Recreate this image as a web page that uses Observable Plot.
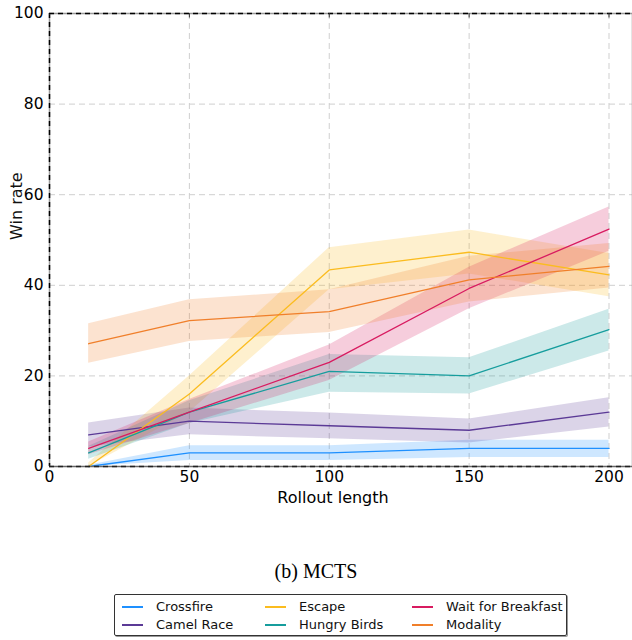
<!DOCTYPE html>
<html>
<head>
<meta charset="utf-8">
<script src="https://cdn.jsdelivr.net/npm/d3@7"></script>
<script src="https://cdn.jsdelivr.net/npm/@observablehq/plot@0.6"></script>
<style>
  html, body { margin: 0; padding: 0; background: #fff; }
  #fig { position: relative; width: 632px; height: 640px; font-family: "DejaVu Sans", sans-serif; }
  #chart { position: absolute; left: 0; top: 0; }
  #caption { position: absolute; left: 0; width: 632px; top: 560px; text-align: center;
             font-family: "Liberation Serif", "DejaVu Serif", serif; font-size: 20px; color: #000; }
  #legend { position: absolute; left: 114px; top: 594px; width: 453px; height: 42px;
            border: 1px solid #333; border-radius: 2px; box-shadow: 1px 1px 0 #999; box-sizing: border-box;
            font-size: 13px; color: #111; }
  .li { position: absolute; height: 16px; line-height: 16px; white-space: nowrap; }
  .li .sw { position: absolute; left: 0; top: 7px; width: 21px; height: 2px; }
  .li .tx { position: absolute; left: 34px; top: 0; }
</style>
</head>
<body>
<div id="fig">
  <div id="chart"></div>
  <div id="caption">(b) MCTS</div>
  <div id="legend"></div>
</div>
<script>
const rollout = [14, 50, 100, 150, 200];
const seriesNames = ["Crossfire", "Camel Race", "Escape", "Hungry Birds", "Wait for Breakfast", "Modality"];
const seriesColors = ["#1e90ff", "#5b3a96", "#fbbc1f", "#169d9d", "#d81b60", "#f07f2a"];

const crossfireMean = [0, 3, 3, 4, 4];
const crossfireLo   = [0, 1.3, 1.3, 2, 2];
const crossfireHi   = [0.3, 4.6, 4.6, 5.8, 5.8];

const camelMean = [7, 10, 9, 8, 12];
const camelLo   = [4.3, 7, 6.1, 5.2, 8.7];
const camelHi   = [9.6, 12.9, 11.8, 10.5, 15.2];

const escapeMean = [0, 16, 43.4, 47.3, 42.3];
const escapeLo   = [0, 12, 39, 42.5, 37.5];
const escapeHi   = [0.8, 20, 48.3, 52.2, 47];

const birdsMean = [3, 12, 21, 20, 30.2];
const birdsLo   = [1.6, 9.5, 16.4, 16, 25.5];
const birdsHi   = [4.4, 14.5, 24.7, 24, 34.7];

const breakfastMean = [4, 12, 23, 39.3, 52.4];
const breakfastLo   = [2.6, 9.5, 19, 34.8, 47.5];
const breakfastHi   = [5.4, 14.8, 26.8, 44, 57.3];

const modalityMean = [27.1, 32.2, 34.2, 41.2, 44.2];
const modalityLo   = [22.8, 27.6, 29.6, 36.3, 39.4];
const modalityHi   = [31.5, 36.8, 39, 46.4, 49.2];

const xTicks = [0, 50, 100, 150, 200];
const yTicks = [0, 20, 40, 60, 80, 100];

const means = [crossfireMean, camelMean, escapeMean, birdsMean, breakfastMean, modalityMean];
const los = [crossfireLo, camelLo, escapeLo, birdsLo, breakfastLo, modalityLo];
const his = [crossfireHi, camelHi, escapeHi, birdsHi, breakfastHi, modalityHi];

const rows = [];
seriesNames.forEach((name, i) => {
  rollout.forEach((x, j) => rows.push({series: name, x, mean: means[i][j], lo: los[i][j], hi: his[i][j]}));
});

const bandMarks = seriesNames.map((name, i) =>
  Plot.areaY(rows.filter(d => d.series === name), {x: "x", y1: "lo", y2: "hi", fill: seriesColors[i], fillOpacity: 0.22}));
const lineMarks = seriesNames.map((name, i) =>
  Plot.lineY(rows.filter(d => d.series === name), {x: "x", y: "mean", stroke: seriesColors[i], strokeWidth: 1.3}));

const chart = Plot.plot({
  width: 632,
  height: 520,
  marginLeft: 49,
  marginRight: 0,
  marginTop: 13,
  marginBottom: 54,
  style: {fontFamily: "DejaVu Sans, sans-serif", fontSize: "15.5px", color: "#000", background: "#fff"},
  x: {type: "linear", domain: [0, 208.4]},
  y: {type: "linear", domain: [0, 100]},
  marks: [
    Plot.gridX(xTicks.filter(t => t > 0), {stroke: "#cfcfcf", strokeOpacity: 1, strokeDasharray: "6,4"}),
    Plot.gridY(yTicks.filter(t => t > 0 && t < 100), {stroke: "#cfcfcf", strokeOpacity: 1, strokeDasharray: "6,4"}),
    ...bandMarks,
    ...lineMarks,
    // spines
    Plot.ruleX([0], {stroke: "#999", strokeWidth: 1.5}),
    Plot.ruleX([0], {stroke: "#000", strokeWidth: 1.5, strokeDasharray: "5,4"}),
    Plot.ruleY([100], {stroke: "#999", strokeWidth: 1.5}),
    Plot.ruleY([100], {stroke: "#000", strokeWidth: 1.5, strokeDasharray: "5,4"}),
    Plot.ruleY([0], {stroke: "#666", strokeWidth: 1.5}),
    Plot.ruleY([0], {stroke: "#222", strokeWidth: 1.5, strokeDasharray: "5,4"}),
    Plot.ruleX([208.4], {stroke: "#999", strokeWidth: 1.5}),
    // inner tick marks on the top spine
    Plot.ruleX(xTicks.filter(t => t > 0), {y1: 100, y2: 99, stroke: "#333", strokeWidth: 1}),
    Plot.axisY({ticks: yTicks, tickSize: 0, tickPadding: 6, fontSize: 15.5, label: null}),
    Plot.axisX({ticks: xTicks, tickSize: 0, tickPadding: 4, fontSize: 15.5, label: null}),
    Plot.text(["Win rate"], {frameAnchor: "left", dx: -33, rotate: -90, fontSize: 16, fill: "#111"}),
    Plot.text(["Rollout length"], {frameAnchor: "bottom", dy: 36, dx: -8, fontSize: 16, fill: "#000"})
  ]
});
document.getElementById("chart").appendChild(chart);

// legend
const legend = document.getElementById("legend");
const colX = [7, 150, 297];
const rowY = [4, 22];
const order = [["Crossfire", "Escape", "Wait for Breakfast"], ["Camel Race", "Hungry Birds", "Modality"]];
order.forEach((r, ri) => r.forEach((name, ci) => {
  const i = seriesNames.indexOf(name);
  const el = document.createElement("div");
  el.className = "li";
  el.style.left = colX[ci] + "px";
  el.style.top = rowY[ri] + "px";
  const sw = document.createElement("div");
  sw.className = "sw";
  sw.style.background = seriesColors[i];
  const tx = document.createElement("div");
  tx.className = "tx";
  tx.textContent = name;
  el.appendChild(sw);
  el.appendChild(tx);
  legend.appendChild(el);
}));
</script>
</body>
</html>
